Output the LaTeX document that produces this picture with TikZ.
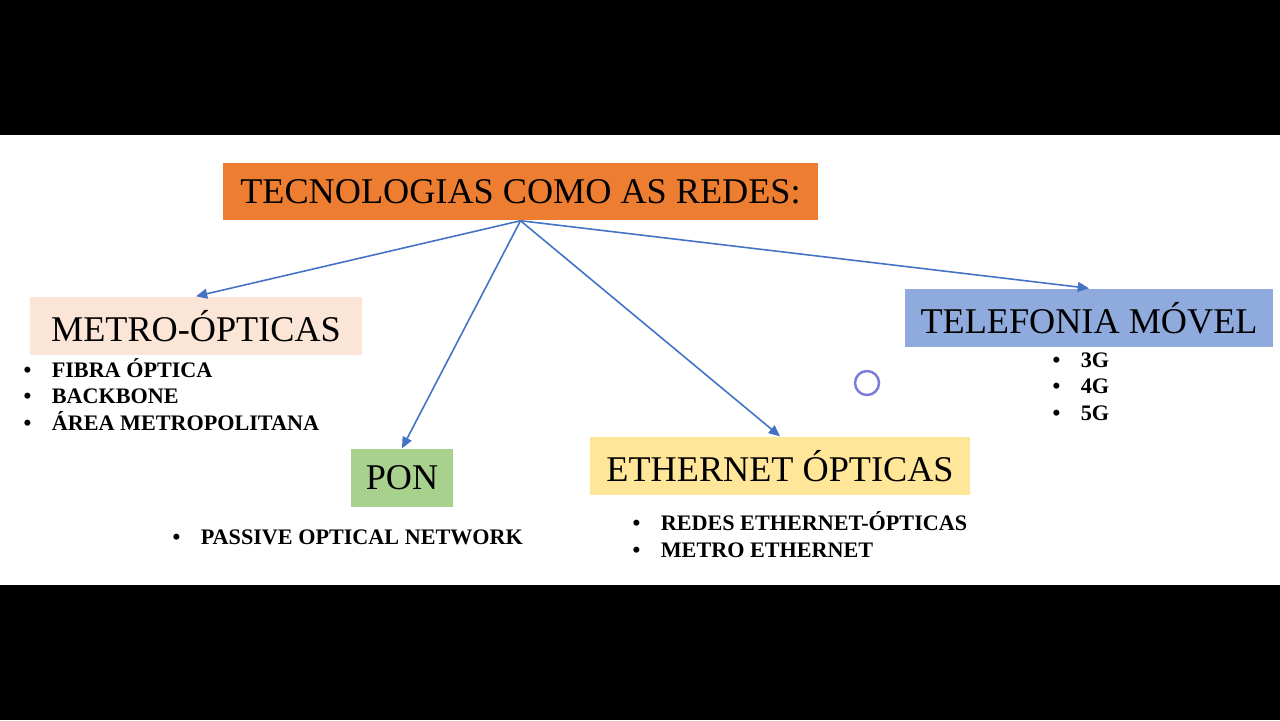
\documentclass[tikz,border=0pt]{standalone}
\usepackage{fontspec}
\setmainfont{Liberation Serif}
\usetikzlibrary{arrows.meta}

\definecolor{orangebox}{HTML}{ED7D31}
\definecolor{peachbox}{HTML}{FBE5D6}
\definecolor{greenbox}{HTML}{A9D18E}
\definecolor{yellowbox}{HTML}{FFE699}
\definecolor{bluebox}{HTML}{8FAADC}
\definecolor{linkblue}{HTML}{4472C4}
\definecolor{pointerblue}{HTML}{7B7BD9}

\tikzset{
	box/.style={inner sep=0pt, minimum height=0.58cm, font=\fontsize{10.3pt}{12pt}\selectfont},
	item/.style={anchor=base west, inner sep=0pt, font=\fontsize{6.3pt}{7.5pt}\selectfont\bfseries},
	link/.style={draw=linkblue, line width=0.45pt, -{Triangle[length=3.2pt,width=2.8pt]}}
}
\newcommand{\bul}{\makebox[8pt][l]{\textbullet}}

\begin{document}
\begin{tikzpicture}[x=0.01cm, y=-0.01cm]
		% Background: black bars and white band
		\fill[black] (0,0) rectangle (1280,720);
		\fill[white] (0,135) rectangle (1280,585);

		% Main box
		\node[box, fill=orangebox, minimum width=5.95cm, minimum height=0.57cm] (redes) at (520.5,191.5) {TECNOLOGIAS COMO AS REDES:};

		% Branch boxes
		\node[box, fill=peachbox, minimum width=3.32cm] (metro) at (196,326) {METRO-ÓPTICAS};
		\node[box, fill=greenbox, minimum width=1.02cm] (pon) at (402,478) {PON};
		\node[box, fill=yellowbox, minimum width=3.80cm] (ethernet) at (780,466) {ETHERNET ÓPTICAS};
		\node[box, fill=bluebox, minimum width=3.68cm] (telefonia) at (1089,318) {TELEFONIA MÓVEL};

		% Arrows from the main box
		\foreach \b in {metro,pon,ethernet,telefonia}
			\draw[link] (redes.south) -- (\b.north);

		% Bullet lists
		\foreach \t [count=\k] in {FIBRA ÓPTICA, BACKBONE, ÁREA METROPOLITANA}
			\node[item] (metro-\k) at (23, 350.5+26.5*\k) {\bul\t};
		\node[item] (pon-1) at (172,544) {\bul PASSIVE OPTICAL NETWORK};
		\foreach \t [count=\k] in {REDES ETHERNET-ÓPTICAS, METRO ETHERNET}
			\node[item] (ethernet-\k) at (632, 503.5+27*\k) {\bul\t};
		\foreach \t [count=\k] in {3G, 4G, 5G}
			\node[item] (telefonia-\k) at (1052, 340.5+26.5*\k) {\bul\t};

		% Pointer ring
		\draw[pointerblue, line width=0.7pt] (867,383) circle (0.12cm);
	\end{tikzpicture}
\end{document}
